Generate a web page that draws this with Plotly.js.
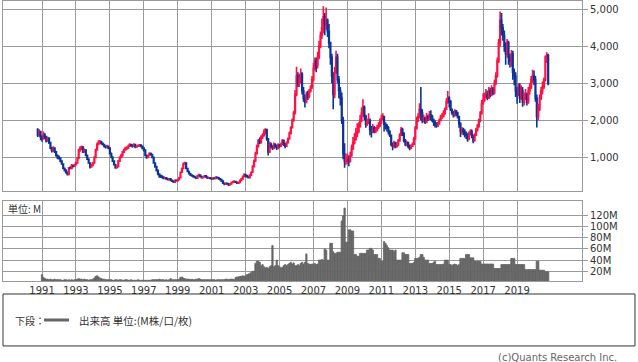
<!DOCTYPE html>
<html><head><meta charset="utf-8">
<script src="https://cdn.plot.ly/plotly-3.0.1.min.js"></script>
<style>html,body{margin:0;padding:0;background:#fff;}#chart{width:638px;height:362px;}</style>
</head><body><div id="chart"></div>
<script>
// monthly bars starting 1990-10
const startYear = 1990, startMonth = 10;
const firstOpen = 1750;
const close = [
 1600,1700,1550,
 1500,1620,1560,1450,1520,1400,1250,1180,1250,1150,1050,1000,
 980,900,820,700,650,600,540,720,700,780,760,800,
 850,980,1200,1250,1280,1150,1200,1050,950,850,750,800,
 850,1000,1200,1350,1400,1420,1380,1350,1300,1280,1300,1250,
 1100,1000,900,800,720,750,900,1000,1050,1150,1200,1250,
 1250,1300,1350,1330,1300,1350,1280,1300,1320,1330,1300,1250,
 1200,1050,1000,1050,1100,1080,1000,850,750,650,550,500,
 480,470,430,450,420,400,420,380,360,330,380,370,
 400,450,600,700,820,850,700,620,560,520,500,480,
 460,440,500,520,480,450,470,500,470,440,450,430,
 420,440,430,460,450,420,400,360,300,280,300,290,
 260,280,320,340,350,330,300,320,380,420,480,520,
 500,480,450,520,600,750,900,1100,1300,1450,1400,1550,
 1600,1700,1750,1500,1150,1350,1300,1250,1350,1300,1250,1330,
 1300,1350,1450,1350,1300,1400,1500,1650,1800,2000,2200,2700,
 3200,3000,3100,3250,2800,2600,2500,2700,2650,2800,2900,3100,
 3400,3600,3500,3700,4000,4300,4500,4800,4600,4700,4400,4100,
 3700,3200,2700,3300,3700,3100,2800,2600,2000,1100,900,950,
 950,900,1050,1250,1400,1500,1650,1700,1850,2000,2200,2350,
 2100,1900,1950,2000,1750,1700,1800,1700,1750,1800,1850,1950,
 2050,2100,1900,1850,1800,1700,1600,1350,1300,1400,1300,1350,
 1450,1600,1750,1650,1450,1350,1400,1300,1250,1300,1350,1500,
 1800,2000,2100,2300,2200,2000,2050,1950,2100,2050,2150,2100,
 2000,1950,1900,1850,1900,2000,2100,2100,2200,2300,2500,2600,
 2500,2300,2200,2150,2250,2200,2100,1900,1700,1750,1700,1650,
 1600,1500,1650,1700,1600,1450,1600,1750,1850,2000,2200,2450,
 2550,2650,2700,2600,2800,2700,2850,2750,3000,3200,3600,4100,
 4700,4500,4300,4000,3800,4100,3700,3600,3800,3300,3200,2800,
 2700,2900,2600,2800,2500,2600,2700,2500,2800,2900,3100,3200,
 3100,2600,2100,2300,2600,2800,2900,3100,3700,3750,3000
];
const high = [
 1790,1760,1720,
 1600,1700,1650,1580,1560,1540,1420,1290,1300,1270,1170,1080,
 1050,1000,920,840,730,680,620,740,760,820,800,830,
 880,1010,1230,1300,1320,1290,1240,1210,1080,980,870,830,
 880,1030,1230,1400,1460,1470,1450,1400,1370,1330,1340,1320,
 1270,1130,1030,920,820,790,930,1030,1100,1180,1240,1290,
 1300,1340,1380,1370,1340,1380,1360,1330,1350,1360,1350,1310,
 1270,1220,1080,1080,1140,1130,1090,1020,870,770,670,570,
 540,520,490,470,460,430,440,430,400,370,400,400,
 420,470,620,730,860,880,860,720,640,580,540,520,
 500,480,530,560,530,490,490,520,510,480,470,460,
 450,460,460,490,480,460,430,410,370,320,320,320,
 300,300,340,370,380,370,340,340,400,440,510,570,
 560,530,500,540,620,790,940,1150,1350,1500,1540,1600,
 1650,1760,1790,1760,1520,1420,1400,1330,1400,1380,1340,1380,
 1360,1400,1500,1480,1390,1430,1540,1700,1840,2050,2260,2820,
 3450,3300,3250,3400,3300,2900,2700,2780,2800,2850,2950,3200,
 3550,3700,3700,3850,4150,4400,4750,5080,4900,5050,4750,4600,
 4100,3800,3300,3450,3880,3800,3200,2900,2750,2100,1380,1100,
 1100,1050,1150,1350,1550,1650,1800,1920,1950,2150,2350,2570,
 2400,2150,2050,2190,2050,1850,1900,1850,1820,1880,1950,2050,
 2150,2190,2120,1950,1900,1850,1730,1620,1400,1450,1420,1400,
 1500,1650,1820,1800,1680,1500,1450,1420,1350,1350,1400,1560,
 1850,2100,2190,2460,2900,2300,2150,2100,2200,2150,2250,2270,
 2150,2050,2000,1950,1960,2050,2150,2200,2270,2350,2600,2790,
 2650,2550,2320,2250,2300,2280,2230,2120,1950,1820,1800,1760,
 1700,1650,1700,1760,1750,1620,1650,1800,1900,2050,2250,2550,
 2730,2750,2850,2800,2900,2880,2950,2900,3100,3300,3700,4200,
 4940,4900,4600,4430,4100,4200,4150,3800,3900,3880,3400,3300,
 2900,3000,3000,2950,2900,2750,2850,2750,2900,3000,3200,3370,
 3350,3200,2700,2450,2700,2900,3050,3150,3750,3840,3800
];
const low = [
 1550,1560,1460,
 1420,1480,1500,1400,1420,1360,1220,1130,1150,1120,1020,950,
 940,870,800,680,620,560,510,530,680,690,730,740,
 780,830,960,1150,1200,1120,1130,1030,930,830,700,720,
 760,840,980,1180,1330,1360,1340,1320,1270,1240,1250,1220,
 1080,980,880,780,690,700,730,880,980,1020,1120,1180,
 1200,1230,1290,1290,1260,1280,1250,1260,1280,1290,1270,1220,
 1160,1030,960,980,1030,1050,980,830,720,620,520,450,
 440,430,410,420,400,380,390,360,340,310,320,350,
 360,390,440,590,690,800,680,600,540,500,480,460,
 440,420,430,480,460,430,440,460,450,420,420,410,
 400,410,410,420,430,400,380,340,280,250,270,260,
 230,250,270,310,320,310,280,290,310,370,410,470,
 470,450,430,440,510,590,730,880,1080,1270,1360,1380,
 1500,1560,1620,1450,1050,1120,1250,1200,1220,1260,1200,1220,
 1260,1280,1330,1310,1250,1280,1380,1480,1620,1780,1960,2160,
 2650,2900,2900,3000,2700,2500,2350,2460,2550,2600,2750,2850,
 3050,3350,3300,3400,3650,3950,4200,4350,4300,4450,4250,3950,
 3500,3000,2300,2600,3250,3000,2600,2400,1900,950,720,800,
 820,760,860,1020,1200,1350,1450,1550,1650,1800,1950,2100,
 2000,1800,1850,1900,1600,1540,1650,1650,1660,1700,1760,1820,
 1900,2000,1700,1750,1700,1620,1550,1300,1190,1250,1250,1260,
 1300,1420,1580,1580,1400,1300,1300,1250,1190,1220,1280,1340,
 1480,1750,1950,2050,2000,1920,1950,1900,1920,1980,2000,2000,
 1950,1850,1810,1800,1820,1880,1980,2030,2080,2150,2280,2450,
 2350,2250,2150,2080,2100,2120,2050,1800,1550,1620,1600,1540,
 1500,1420,1460,1600,1520,1380,1440,1580,1700,1800,1950,2150,
 2450,2500,2600,2540,2580,2620,2650,2680,2700,2950,3150,3550,
 4000,4300,4150,3850,3500,3700,3500,3430,3450,3100,2950,2630,
 2450,2650,2470,2550,2370,2400,2550,2400,2450,2700,2850,3000,
 2950,2500,1810,2000,2250,2550,2700,2850,3050,3550,2950
];
// monthly volume, millions
const volume = [
 null,null,null,
 14,9,7,6,6,5,6,5,5,6,5,5,
 5,5,4,4,5,5,4,5,4,5,4,5,
 5,6,7,6,6,5,6,5,5,4,5,5,
 6,8,11,12,10,8,7,6,6,5,5,5,
 5,5,4,4,5,5,4,5,5,4,4,5,
 5,4,4,5,4,4,4,4,5,4,4,4,
 4,4,4,4,4,4,5,5,5,5,5,6,
 5,5,5,4,5,4,5,7,5,5,5,5,
 5,6,9,10,8,7,6,6,6,5,6,5,
 5,6,6,7,6,5,5,5,5,5,5,5,
 5,5,5,4,5,5,5,5,5,5,6,6,
 5,6,6,6,5,9,10,10,11,11,12,11,
 12,14,15,16,18,20,20,34,38,38,36,30,
 32,28,26,27,25,28,30,66,28,30,40,30,
 28,26,27,30,32,30,32,34,36,33,35,30,
 30,32,30,34,36,33,36,51,34,33,32,33,
 33,34,32,33,40,40,41,40,60,58,40,40,
 70,70,55,52,52,54,54,54,110,119,133,72,
 72,94,94,92,92,50,50,47,47,52,52,52,
 52,52,58,58,61,61,58,50,50,50,43,43,
 38,38,73,70,66,62,58,58,58,55,58,40,
 40,40,40,53,53,50,50,50,34,34,34,36,
 43,43,43,45,50,50,45,40,40,40,34,34,
 34,36,38,32,32,32,32,32,33,40,40,40,
 32,32,30,32,33,32,30,32,43,43,43,43,
 50,50,50,44,44,44,38,38,38,38,38,33,
 33,33,33,33,33,33,33,33,25,25,25,25,
 25,32,32,32,32,32,32,32,43,43,43,32,
 32,32,32,32,32,32,23,23,23,23,23,23,
 23,23,38,38,22,22,22,22,19,19,19
];
const priceTicks = [1000,2000,3000,4000,5000];
const volTicks = [20,40,60,80,100,120];
const yearTicks = [1991,1993,1995,1997,1999,2001,2003,2005,2007,2009,2011,2013,2015,2017,2019];

const dates = close.map((_, i) => {
  const m0 = startMonth - 1 + i;
  const y = startYear + Math.floor(m0 / 12);
  const m = (m0 % 12) + 1;
  return y + '-' + String(m).padStart(2, '0') + '-01';
});
const open = [firstOpen].concat(close.slice(0, -1));

const RED = '#ff1046', BLUE = '#0c3398', GRID = '#9a9a9a', TXT = '#333333';
const FONT = 'DejaVu Sans, Verdana, sans-serif';
const CJK = 'Noto Sans CJK JP, DejaVu Sans, sans-serif';

const traces = [
  {type: 'candlestick', x: dates, open: open, high: high, low: low, close: close,
   xaxis: 'x', yaxis: 'y', hoverinfo: 'skip', whiskerwidth: 0,
   increasing: {line: {color: RED, width: 1.6}, fillcolor: RED},
   decreasing: {line: {color: BLUE, width: 1.6}, fillcolor: BLUE}},
  {type: 'bar', x: dates, y: volume, xaxis: 'x2', yaxis: 'y2', hoverinfo: 'skip',
   marker: {color: '#666666', line: {width: 0.8, color: '#666666'}}}
];

const xr = ['1988-09-13', '2022-10-30'];
const axX = {
  type: 'date', range: xr, tickvals: yearTicks.map(y => y + '-01-01'),
  ticktext: yearTicks.map(String),
  showgrid: true, gridcolor: GRID, gridwidth: 1, zeroline: false,
  showline: true, mirror: true, linecolor: GRID, linewidth: 1, ticks: '',
  tickfont: {family: FONT, size: 10, color: TXT}
};
const layout = {
  width: 638, height: 362,
  margin: {l: 3, r: 56, t: 1, b: 81},
  paper_bgcolor: '#ffffff', plot_bgcolor: '#ffffff',
  showlegend: false, bargap: 0,
  xaxis: Object.assign({}, axX, {anchor: 'y', showticklabels: false, rangeslider: {visible: false}}),
  xaxis2: Object.assign({}, axX, {anchor: 'y2', matches: 'x', showticklabels: true}),
  yaxis: {domain: [0.3214, 1], range: [92, 5224], side: 'right', tickvals: priceTicks,
    tickformat: ',d', showgrid: true, gridcolor: GRID, zeroline: false,
    showline: true, mirror: true, linecolor: GRID, ticks: 'outside', ticklen: 5,
    tickcolor: GRID, tickfont: {family: FONT, size: 10, color: TXT}},
  yaxis2: {domain: [0, 0.2857], range: [2.7, 145.5], side: 'right', tickvals: volTicks,
    ticktext: volTicks.map(v => v + 'M'), showgrid: true, gridcolor: GRID, zeroline: false,
    showline: true, mirror: true, linecolor: GRID, ticks: 'outside', ticklen: 5,
    tickcolor: GRID, tickfont: {family: FONT, size: 10, color: TXT}},
  shapes: [
    {type: 'rect', xref: 'paper', yref: 'paper', x0: 0, x1: 1.0915, y0: -0.0464, y1: -0.232,
     line: {color: '#333333', width: 1}},
    {type: 'line', xref: 'paper', yref: 'paper', x0: (44-3)/579, x1: (69-3)/579,
     y0: -0.1393, y1: -0.1393, line: {color: '#666666', width: 3}}
  ],
  annotations: [
    {text: '単位: M', xref: 'paper', yref: 'paper', x: (6-3)/579, y: (281-208)/280,
     xanchor: 'left', yanchor: 'middle', showarrow: false,
     font: {family: CJK, size: 10, color: TXT}},
    {text: '下段：', xref: 'paper', yref: 'paper', x: (13-3)/579, y: -0.1393,
     xanchor: 'left', yanchor: 'middle', showarrow: false,
     font: {family: CJK, size: 10, color: TXT}},
    {text: '出来高 単位:(M株/口/枚)', xref: 'paper', yref: 'paper', x: (77-3)/579, y: -0.1393,
     xanchor: 'left', yanchor: 'middle', showarrow: false,
     font: {family: CJK, size: 10.5, color: TXT}},
    {text: '(c)Quants Research Inc.', xref: 'paper', yref: 'paper', x: (619-3)/579, y: (281-357)/280,
     xanchor: 'right', yanchor: 'middle', showarrow: false,
     font: {family: FONT, size: 10, color: '#666666'}}
  ]
};
Plotly.newPlot('chart', traces, layout, {staticPlot: true, displayModeBar: false});
</script></body></html>
